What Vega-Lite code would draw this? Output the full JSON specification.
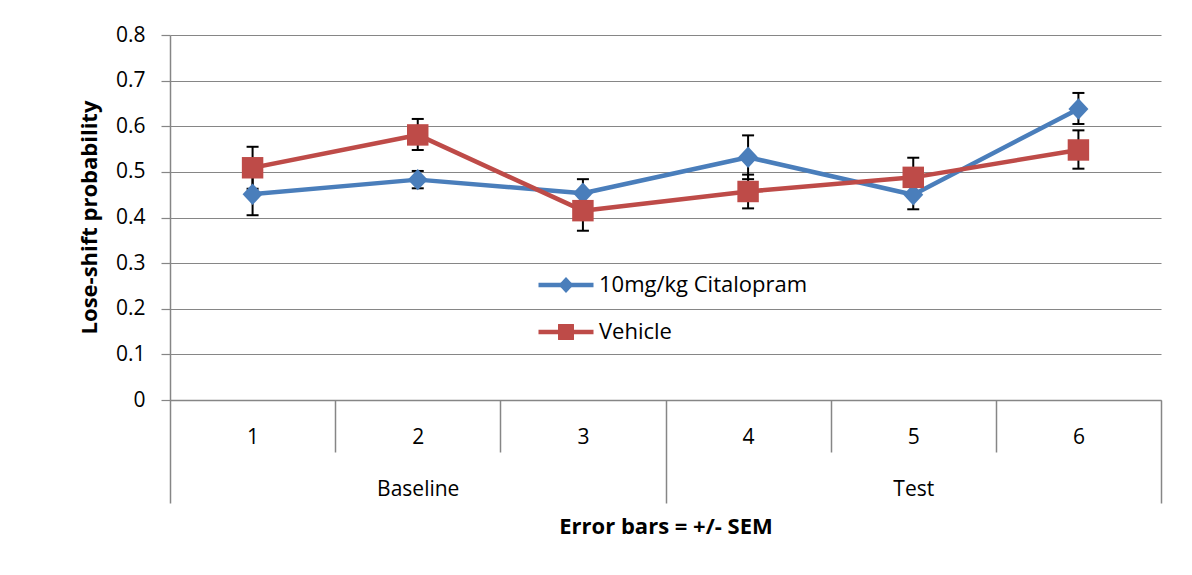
{
  "$schema": "https://vega.github.io/schema/vega-lite/v6.json",
  "width": 991,
  "height": 365,
  "autosize": {"type": "none"},
  "padding": {"left": 170, "top": 35, "right": 31, "bottom": 175},
  "background": "white",
  "config": {
    "view": {"stroke": null},
    "font": "Open Sans"
  },
  "data": {
    "values": [
      {"session": 1, "series": "10mg/kg Citalopram", "value": 0.451, "lo": 0.405, "hi": 0.497},
      {"session": 2, "series": "10mg/kg Citalopram", "value": 0.483, "lo": 0.464, "hi": 0.502},
      {"session": 3, "series": "10mg/kg Citalopram", "value": 0.453, "lo": 0.422, "hi": 0.484},
      {"session": 4, "series": "10mg/kg Citalopram", "value": 0.532, "lo": 0.484, "hi": 0.580},
      {"session": 5, "series": "10mg/kg Citalopram", "value": 0.450, "lo": 0.418, "hi": 0.482},
      {"session": 6, "series": "10mg/kg Citalopram", "value": 0.638, "lo": 0.605, "hi": 0.673},
      {"session": 1, "series": "Vehicle", "value": 0.509, "lo": 0.463, "hi": 0.555},
      {"session": 2, "series": "Vehicle", "value": 0.581, "lo": 0.548, "hi": 0.616},
      {"session": 3, "series": "Vehicle", "value": 0.415, "lo": 0.371, "hi": 0.459},
      {"session": 4, "series": "Vehicle", "value": 0.457, "lo": 0.420, "hi": 0.494},
      {"session": 5, "series": "Vehicle", "value": 0.488, "lo": 0.445, "hi": 0.531},
      {"session": 6, "series": "Vehicle", "value": 0.548, "lo": 0.507, "hi": 0.591}
    ]
  },
  "layer": [
    {
      "mark": {"type": "line", "strokeWidth": 4.5, "strokeJoin": "round", "strokeCap": "round"},
      "encoding": {
        "x": {
          "field": "session", "type": "quantitative",
          "scale": {"domain": [0.5, 6.5], "nice": false, "zero": false},
          "axis": {
            "orient": "bottom",
            "values": [0.5, 1.5, 2.5, 3.5, 4.5, 5.5, 6.5],
            "labels": false, "title": null, "grid": false,
            "domain": true, "domainColor": "#868686", "domainWidth": 1.5,
            "ticks": true, "tickColor": "#868686", "tickWidth": 1.5,
            "tickSize": {"condition": {"test": "datum.value == 0.5 || datum.value == 3.5 || datum.value == 6.5", "value": 103}, "value": 52}
          }
        },
        "y": {
          "field": "value", "type": "quantitative",
          "scale": {"domain": [0, 0.8], "nice": false, "zero": true},
          "axis": {
            "orient": "left",
            "values": [0, 0.1, 0.2, 0.3, 0.4, 0.5, 0.6, 0.7, 0.8],
            "format": "~g",
            "grid": true, "gridColor": "#868686", "gridWidth": 1.2,
            "domain": true, "domainColor": "#868686", "domainWidth": 1.5,
            "ticks": true, "tickColor": "#868686", "tickWidth": 1.2, "tickSize": 9,
            "labelFontSize": 21, "labelColor": "black", "labelPadding": 16,
            "title": "Lose-shift probability",
            "titleFontSize": 22, "titleFontWeight": "bold", "titleColor": "black",
            "titleX": -74, "titleY": 182, "titleBaseline": "alphabetic"
          }
        },
        "color": {
          "field": "series", "type": "nominal",
          "scale": {"domain": ["10mg/kg Citalopram", "Vehicle"], "range": ["#4A7EBB", "#BE4B48"]},
          "legend": {
            "title": null, "orient": "none", "legendX": 366, "legendY": 220,
            "symbolType": "stroke", "symbolSize": 3025, "symbolStrokeWidth": 4.5,
            "labelFontSize": 22, "labelColor": "black", "labelOffset": 3, "labelLimit": 400,
            "rowPadding": 6, "padding": 0
          }
        }
      }
    },
    {
      "mark": {"type": "rule", "color": "black", "strokeWidth": 2},
      "encoding": {
        "x": {
          "field": "session", "type": "quantitative",
          "axis": {
            "orient": "bottom",
            "values": [1, 2, 3, 4, 5, 6], "format": "d",
            "ticks": false, "tickSize": 0, "domain": false, "grid": false,
            "labelFlush": false, "labelPadding": 26, "labelFontSize": 21, "labelColor": "black",
            "title": "Error bars = +/- SEM",
            "titleFontSize": 22, "titleFontWeight": "bold", "titleColor": "black",
            "titleY": 133, "titleBaseline": "alphabetic"
          }
        },
        "y": {"field": "lo", "type": "quantitative", "axis": null},
        "y2": {"field": "hi"}
      }
    },
    {
      "mark": {"type": "tick", "orient": "horizontal", "color": "black", "size": 12, "thickness": 2, "opacity": 1},
      "encoding": {
        "x": {"field": "session", "type": "quantitative", "axis": null},
        "y": {"field": "lo", "type": "quantitative", "axis": null}
      }
    },
    {
      "mark": {"type": "tick", "orient": "horizontal", "color": "black", "size": 12, "thickness": 2, "opacity": 1},
      "encoding": {
        "x": {"field": "session", "type": "quantitative", "axis": null},
        "y": {"field": "hi", "type": "quantitative", "axis": null}
      }
    },
    {
      "mark": {"type": "point", "filled": true, "opacity": 1, "size": 5476},
      "encoding": {
        "x": {
          "field": "session", "type": "quantitative",
          "axis": {
            "orient": "bottom",
            "values": [2, 5],
            "labelExpr": "datum.value == 2 ? 'Baseline' : 'Test'",
            "ticks": false, "tickSize": 0, "domain": false, "grid": false,
            "labelFlush": false, "labelPadding": 78, "labelFontSize": 21, "labelColor": "black",
            "title": null
          }
        },
        "y": {"field": "value", "type": "quantitative", "axis": null},
        "color": {
          "field": "series", "type": "nominal",
          "legend": {
            "title": null, "orient": "none", "legendX": 366, "legendY": 220,
            "symbolSize": 3025, "symbolStrokeWidth": 4.5,
            "labelFontSize": 22, "labelColor": "transparent", "labelOffset": 3, "labelLimit": 400,
            "rowPadding": 6, "padding": 0
          }
        },
        "shape": {
          "field": "series", "type": "nominal",
          "scale": {
            "domain": ["10mg/kg Citalopram", "Vehicle"],
            "range": ["M-0.27,0L0,-0.29L0.27,0L0,0.29Z", "M-0.29,-0.29H0.29V0.29H-0.29Z"]
          },
          "legend": {
            "title": null, "orient": "none", "legendX": 366, "legendY": 220,
            "symbolSize": 3025, "symbolStrokeWidth": 4.5,
            "labelFontSize": 22, "labelColor": "transparent", "labelOffset": 3, "labelLimit": 400,
            "rowPadding": 6, "padding": 0
          }
        }
      }
    }
  ],
  "resolve": {
    "axis": {"x": "independent", "y": "independent"},
    "legend": {"color": "independent", "shape": "independent"}
  }
}
